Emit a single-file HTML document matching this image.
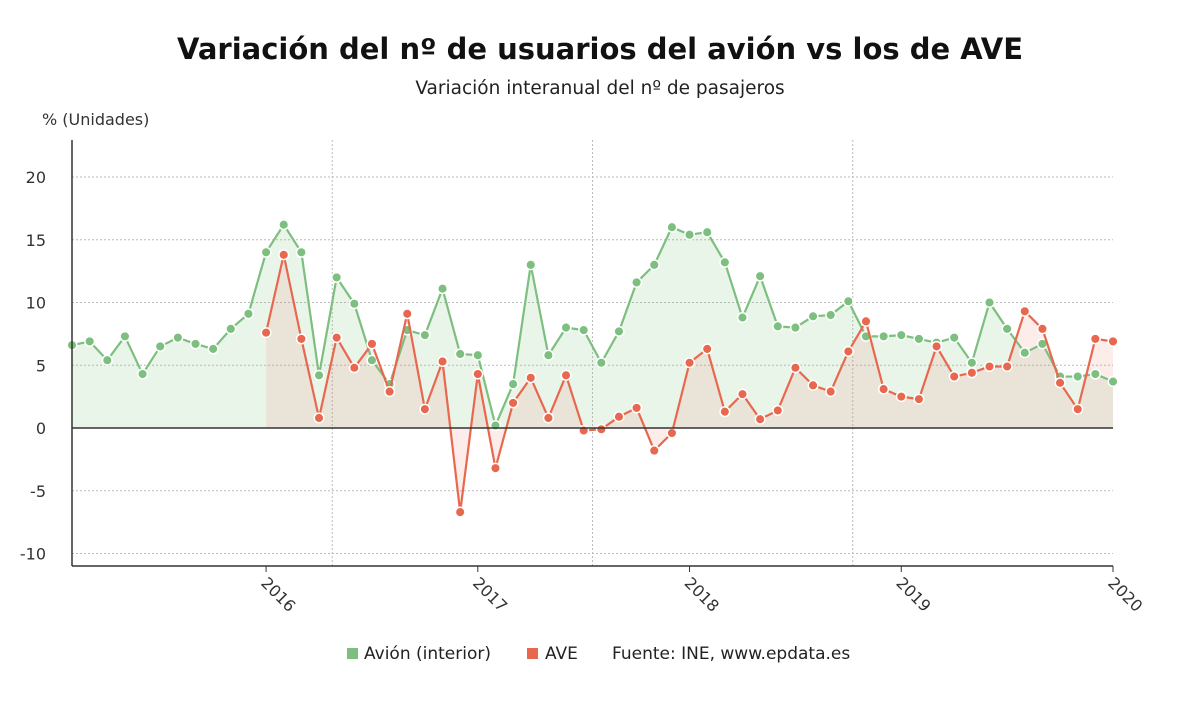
<!DOCTYPE html>
<html><head><meta charset="utf-8"><style>
body{margin:0;background:#fff;font-family:"DejaVu Sans","Liberation Sans",sans-serif}
</style></head><body>
<svg id="c" width="1200" height="704" xmlns="http://www.w3.org/2000/svg">
<text x="600" y="59" text-anchor="middle" font-size="29" font-weight="bold" fill="#111">Variación del nº de usuarios del avión vs los de AVE</text>
<text x="600" y="94" text-anchor="middle" font-size="18.5" fill="#222">Variación interanual del nº de pasajeros</text>
<text x="42" y="125" font-size="16" fill="#333">% (Unidades)</text>
<g id="grid"></g><g id="areas"></g><g id="lines"></g><g id="axes"></g>
<g>
<rect x="347" y="648" width="11" height="11" fill="#7cbf7f"/>
<text x="364" y="659" font-size="17" fill="#222">Avión (interior)</text>
<rect x="527" y="648" width="11" height="11" fill="#e8684f"/>
<text x="545" y="659" font-size="17" fill="#222">AVE</text>
<text x="612" y="659" font-size="17" fill="#222">Fuente: INE, www.epdata.es</text>
</g>
</svg>
<script>
const avion=[6.6,6.9,5.4,7.3,4.3,6.5,7.2,6.7,6.3,7.9,9.1,14,16.2,14,4.2,12,9.9,5.4,3.5,7.8,7.4,11.1,5.9,5.8,0.2,3.5,13,5.8,8,7.8,5.2,7.7,11.6,13,16,15.4,15.6,13.2,8.8,12.1,8.1,8,8.9,9,10.1,7.3,7.3,7.4,7.1,6.8,7.2,5.2,10,7.9,6,6.7,4.1,4.1,4.3,3.7];
const ave=[7.6,13.8,7.1,0.8,7.2,4.8,6.7,2.9,9.1,1.5,5.3,-6.7,4.3,-3.2,2.0,4.0,0.8,4.2,-0.2,-0.1,0.9,1.6,-1.8,-0.4,5.2,6.3,1.3,2.7,0.7,1.4,4.8,3.4,2.9,6.1,8.5,3.1,2.5,2.3,6.5,4.1,4.4,4.9,4.9,9.3,7.9,3.6,1.5,7.1,6.9];
const yTicks=[-10,-5,0,5,10,15,20];
const xLabels=["2016","2017","2018","2019","2020"];
const aveStart=11;
const NS="http://www.w3.org/2000/svg";
const X0=72,X1=1113,N=avion.length;
const xs=i=>X0+(X1-X0)*i/(N-1);
const ys=v=>428-v*12.55;
function mk(t,a,p){const e=document.createElementNS(NS,t);for(const k in a)e.setAttribute(k,a[k]);document.getElementById(p).appendChild(e);return e;}
yTicks.forEach(v=>{
 if(v!==0){const l=mk('line',{x1:X0,x2:X1,y1:ys(v),y2:ys(v),stroke:'#bbb','stroke-dasharray':'2,2'},'grid');
 
 }
 const t=mk('text',{x:46,y:ys(v)+6,'text-anchor':'end','font-size':16,fill:'#333'},'grid');t.textContent=v;
 
 
});
[14.75,29.5,44.25].forEach(i=>{const l=mk('line',{x1:xs(i),x2:xs(i),y1:140,y2:566,stroke:'#bbb','stroke-dasharray':'2,2'},'grid');
 
 });
function area(data,off,fill,name){
 let d=`M${xs(off)},${ys(0)}`;data.forEach((v,i)=>d+=`L${xs(i+off)},${ys(v)}`);d+=`L${xs(off+data.length-1)},${ys(0)}Z`;
 const p=mk('path',{d,fill},'areas');
 
 
}
area(avion,0,'rgba(124,191,127,0.16)','avion-area');
area(ave,aveStart,'rgba(232,104,79,0.12)','ave-area');
function series(data,off,col,name){
 const d=data.map((v,i)=>(i?'L':'M')+xs(i+off)+','+ys(v)).join('');
 const p=mk('path',{d,fill:'none',stroke:col,'stroke-width':2.2},'lines');
 
 
 data.forEach((v,i)=>{const c=mk('circle',{cx:xs(i+off),cy:ys(v),r:4.8,fill:col,stroke:'#fff','stroke-width':1.5},'lines');
 
 });
}
series(avion,0,'#7cbf7f','avion');
series(ave,aveStart,'#e8684f','ave');
let l=mk('line',{x1:X0,x2:X1,y1:ys(0),y2:ys(0),stroke:'#333','stroke-width':1.5},'axes');


l=mk('line',{x1:X0,x2:X0,y1:140,y2:566,stroke:'#333','stroke-width':1.5},'axes');


l=mk('line',{x1:X0,x2:X1,y1:566,y2:566,stroke:'#333','stroke-width':1.5},'axes');


xLabels.forEach((s,k)=>{const x=xs(aveStart+12*k);
 const tk=mk('line',{x1:x,x2:x,y1:566,y2:572,stroke:'#333'},'axes');
 
 
 const t=mk('text',{x:x-6,y:584,'font-size':16,fill:'#333',transform:`rotate(45 ${x-6} 584)`},'axes');t.textContent=s;
 
 
});
</script>
</body></html>
